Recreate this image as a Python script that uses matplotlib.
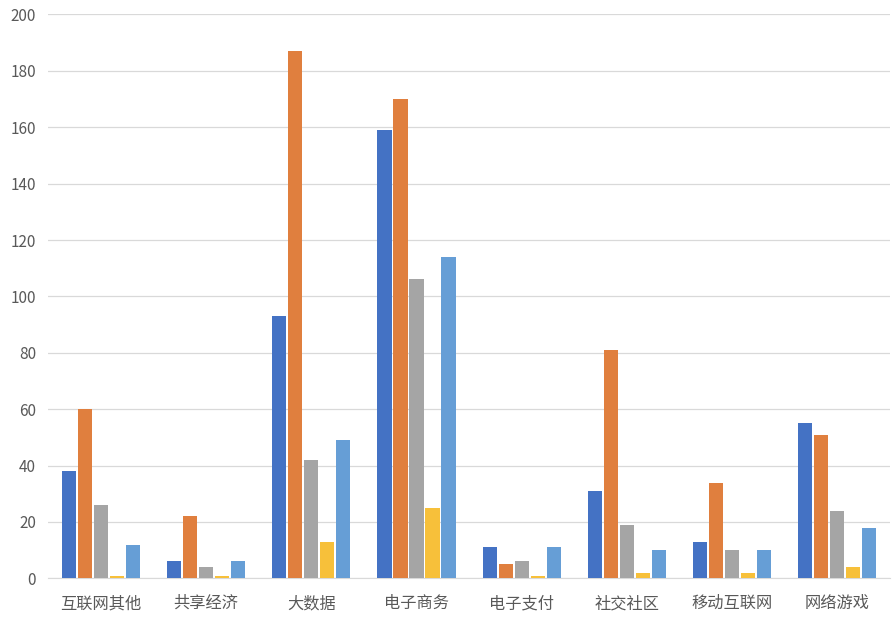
import numpy as np
import matplotlib.pyplot as plt

plt.rcParams['font.family'] = ['Noto Sans CJK SC', 'DejaVu Sans']

categories = ['互联网其他', '共享经济', '大数据', '电子商务', '电子支付', '社交社区', '移动互联网', '网络游戏']
s1 = [38, 6, 93, 159, 11, 31, 13, 55]
s2 = [60, 22, 187, 170, 5, 81, 34, 51]
s3 = [26, 4, 42, 106, 6, 19, 10, 24]
s4 = [1, 1, 13, 25, 1, 2, 2, 4]
s5 = [12, 6, 49, 114, 11, 10, 10, 18]

series = [s1, s2, s3, s4, s5]
colors = ['#4472C4', '#E07F3E', '#A5A5A5', '#F7C03A', '#669ED6']

fig = plt.figure(figsize=(8.96, 6.28), dpi=100)
ax = fig.add_axes([0.054, 0.079, 0.939, 0.898])

x = np.arange(len(categories))
w = 0.135
step = 0.152
for i, (vals, c) in enumerate(zip(series, colors)):
    ax.bar(x + (i - 2) * step, vals, width=w, color=c, zorder=3)

ax.set_ylim(0, 200)
ax.set_yticks(range(0, 201, 20))
ax.set_xlim(-0.5, len(categories) - 0.5)
ax.set_xticks(x)
ax.set_xticklabels(categories, fontsize=11.7, color='#595959')
ax.tick_params(axis='y', labelsize=11, colors='#595959', length=0, pad=9)
ax.tick_params(axis='x', length=0, pad=12)
ax.grid(axis='y', color='#d9d9d9', linewidth=0.9, zorder=0)
for s in ['top', 'right', 'left']:
    ax.spines[s].set_visible(False)
ax.spines['bottom'].set_color('#d9d9d9')

fig.savefig('out.png', dpi=100)
